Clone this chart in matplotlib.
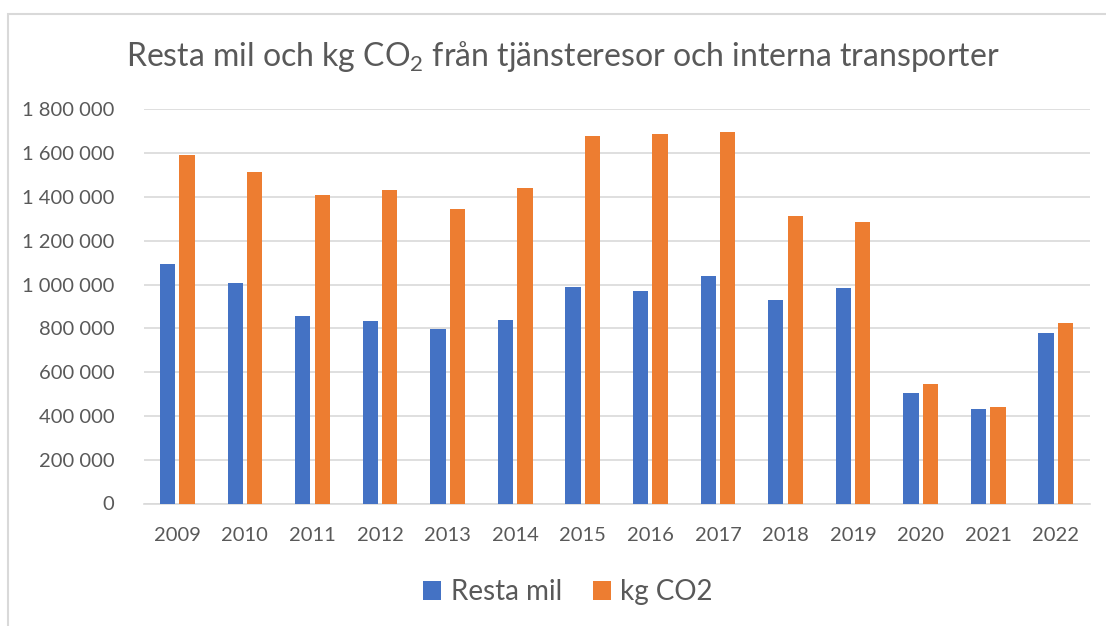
import matplotlib
matplotlib.use("Agg")
import matplotlib.pyplot as plt
import matplotlib.ticker as mticker
from matplotlib.patches import Rectangle
import numpy as np

plt.rcParams['font.family'] = ['Lato', 'DejaVu Sans']
plt.rcParams['mathtext.fontset'] = 'custom'
plt.rcParams['mathtext.rm'] = 'Lato'
plt.rcParams['mathtext.it'] = 'Lato'

years = ['2009', '2010', '2011', '2012', '2013', '2014', '2015',
         '2016', '2017', '2018', '2019', '2020', '2021', '2022']
resta_mil = [1093600, 1008200, 857600, 834700, 798200, 836000, 987200,
             968900, 1037400, 929200, 984000, 504600, 430100, 777200]
kg_co2 = [1591300, 1515100, 1408700, 1433000, 1344700, 1439300, 1679500,
          1685800, 1695000, 1314200, 1286800, 545700, 439300, 822800]

text_col = '#595959'
grid_col = '#D9D9D9'

fig = plt.figure(figsize=(11.06, 6.26), dpi=100)
# chart frame (only left/top edges visible in the crop)
fig.patches.append(Rectangle((8 / 1106, -0.1), 1.2, 1 - 14 / 626 + 0.1,
                             transform=fig.transFigure, fill=False,
                             edgecolor=grid_col, linewidth=1.5))

ax = fig.add_axes([143.5 / 1106, 1 - 503.5 / 626, (1089.6 - 143.5) / 1106, (503.5 - 109.3) / 626])

x = np.arange(len(years))
w = 0.226
off = 0.144
ax.bar(x - off, resta_mil, w, color='#4472C4', label='Resta mil', zorder=3)
ax.bar(x + off, kg_co2, w, color='#ED7D31', label='kg CO2', zorder=3)

ax.set_xlim(-0.5, len(years) - 0.5)
ax.set_ylim(0, 1800000)
ax.yaxis.set_major_locator(mticker.MultipleLocator(200000))
ax.yaxis.set_major_formatter(mticker.FuncFormatter(lambda v, p: f'{int(v):,}'.replace(',', ' ')))
ax.set_xticks(x)
ax.set_xticklabels(years)
ax.tick_params(axis='both', length=0, labelsize=14.5, labelcolor=text_col)
ax.tick_params(axis='y', pad=21)
ax.tick_params(axis='x', pad=17)
ax.grid(axis='y', color=grid_col, linewidth=1.2, zorder=0)
for s in ['top', 'right', 'left']:
    ax.spines[s].set_visible(False)
ax.spines['bottom'].set_color(grid_col)
ax.spines['bottom'].set_linewidth(1.2)

fig.text(0.509, 1 - 57 / 626, r'Resta mil och kg CO$_{\mathrm{2}}$ från tjänsteresor och interna transporter',
         ha='center', va='center', fontsize=23, color=text_col)

fig.legend(loc='center', bbox_to_anchor=(568 / 1106, 1 - 592 / 626), ncol=2, frameon=False,
           fontsize=20, labelcolor=text_col, handlelength=0.65, handleheight=0.65,
           handletextpad=0.35, columnspacing=1.1)

fig.savefig('out.png', dpi=100)
